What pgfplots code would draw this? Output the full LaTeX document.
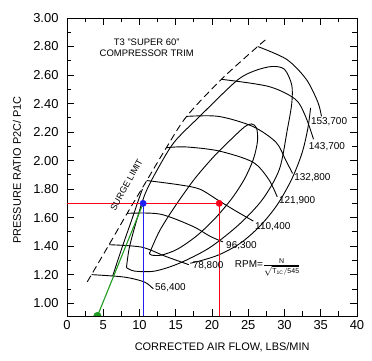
\documentclass[border=0pt]{standalone}
\usepackage{fontspec}
\setmainfont{Liberation Sans}
\setsansfont{Liberation Sans}
\usepackage{pgfplots}
\pgfplotsset{compat=1.18}
\definecolor{ptred}{rgb}{1.0,0.0,0.1}
\definecolor{ptblue}{rgb}{0.12,0.12,0.94}
\definecolor{ptgreen}{rgb}{0.12,0.6,0.12}
\pgfplotsset{ml/.style={draw=black, line width=0.9pt, smooth, mark=none}}
\begin{document}
\begin{tikzpicture}
\useasboundingbox (-67bp,-45bp) rectangle (305bp,316bp);
\begin{axis}[
  scale only axis, width=290bp, height=298bp,
  xmin=0, xmax=40, ymin=0.91, ymax=3.0,
  xtick={0,5,10,15,20,25,30,35,40}, minor x tick num=1,
  ytick={1,1.2,1.4,1.6,1.8,2,2.2,2.4,2.6,2.8,3}, minor y tick num=1,
  tick align=inside,
  major tick length=7bp, minor tick length=4.5bp,
  every tick/.style={black, line width=0.8pt},
  axis line style={line width=0.9pt},
  /pgf/number format/assume math mode=true,
  tick label style={font=\fontsize{13}{15}\selectfont},
  y tick label style={/pgf/number format/.cd, fixed, fixed zerofill, precision=2, /tikz/.cd, xshift=-5bp},
  x tick label style={yshift=-1bp},
  xlabel={CORRECTED AIR FLOW, LBS/MIN},
  ylabel={PRESSURE RATIO P2C/ P1C},
  every axis x label/.style={at={(axis description cs:0.535,0)}, anchor=center, yshift=-31bp, font=\fontsize{11}{13}\selectfont},
  every axis y label/.style={at={(axis description cs:0,0.49)}, anchor=center, xshift=-50bp, rotate=90, font=\fontsize{11}{13}\selectfont},
]
% surge limit (dashed)
\addplot[ml, dash pattern=on 7pt off 4pt] coordinates {(2.8,1.15) (5.8,1.41) (8.3,1.63) (11.0,1.86) (13.7,2.09) (16.5,2.31) (21.3,2.57) (26.3,2.80) (27.7,2.86)};
% speed lines
\addplot[ml] coordinates {(3.4,1.20) (7.9,1.183) (10.7,1.148) (11.9,1.10)};
\addplot[ml] coordinates {(5.8,1.41) (10.3,1.393) (13.5,1.33) (16.8,1.27)};
\addplot[ml] coordinates {(8.3,1.63) (12.8,1.625) (17.3,1.54) (19.7,1.47) (21.5,1.43)};
\addplot[ml] coordinates {(11.0,1.86) (15.5,1.83) (18.3,1.80) (20.9,1.72) (23.5,1.64) (25.7,1.576)};
\addplot[ml] coordinates {(13.7,2.09) (16.3,2.096) (20.9,2.068) (25.6,1.99) (27.8,1.87) (29.0,1.745)};
\addplot[ml] coordinates {(16.5,2.31) (20.9,2.31) (25.6,2.24) (28.8,2.13) (30.1,2.01) (31.1,1.91)};
\addplot[ml] coordinates {(21.3,2.57) (27.8,2.52) (31.5,2.43) (32.9,2.31) (34.0,2.15)};
\addplot[ml] coordinates {(26.3,2.80) (30.3,2.71) (33.0,2.57) (34.6,2.41) (35.1,2.31)};
% efficiency islands
\addplot[ml] coordinates {(11.38,1.35) (12.76,1.506) (14.83,1.674) (17.59,1.871) (20.34,2.033) (22.69,2.152) (24.48,2.236) (25.45,2.257) (26.14,2.229) (26.28,2.138) (25.72,2.012) (24.48,1.871) (22.69,1.731) (20.34,1.59) (17.86,1.471) (15.24,1.379) (13.03,1.337) (11.66,1.337) (11.38,1.35)};
\addplot[ml] coordinates {(8.2,1.25) (8.6,1.39) (9.6,1.58) (10.8,1.77) (12.5,1.94) (14.8,2.13) (18.3,2.31) (23.4,2.56) (25.9,2.63) (28.3,2.66) (30.0,2.64) (31.0,2.53) (31.0,2.40) (30.4,2.22) (29.3,1.94) (27.0,1.73) (23.8,1.555) (19.7,1.39) (15.5,1.28) (12.1,1.225) (9.3,1.225) (8.2,1.25)};
\addplot[ml] coordinates {(10.4,1.80) (9.7,1.70) (8.9,1.58) (8.0,1.45) (7.2,1.33) (6.3,1.19)};
\addplot[ml] coordinates {(33.6,2.37) (33.2,2.22) (32.4,2.05) (31.0,1.87) (29.0,1.69) (26.6,1.54) (23.9,1.42) (21.0,1.34) (18.6,1.30) (17.0,1.28)};
% operating points
\addplot[draw=ptred, solid, line width=1.5pt, mark=none] coordinates {(0,1.70) (21.0,1.70)};
\addplot[draw=ptred, solid, line width=1.5pt, mark=none] coordinates {(21.0,1.70) (21.0,0.91)};
\addplot[draw=ptblue, solid, line width=1.2pt, mark=none] coordinates {(10.5,1.70) (10.5,0.91)};
\addplot[draw=ptgreen, solid, line width=1.1pt, mark=none] coordinates {(4.2,0.91) (10.5,1.70)};
\addplot[only marks, mark=*, mark size=3.2bp, mark options={draw=ptred, fill=ptred}] coordinates {(21.0,1.70)};
\addplot[only marks, mark=*, mark size=3.2bp, mark options={draw=ptblue, fill=ptblue}] coordinates {(10.5,1.70)};
\addplot[only marks, mark=*, mark size=3.8bp, mark options={draw=ptgreen, fill=ptgreen}, clip mode=individual] coordinates {(4.2,0.91)};
% texts
\node[align=center, font=\fontsize{9.5}{11}\selectfont] at (axis cs:11.0,2.79) {T3 "SUPER 60"\\COMPRESSOR TRIM};
\node[rotate=61, font=\fontsize{9}{10}\selectfont, inner sep=0.5pt] at (axis cs:8.2,1.83) {SURGE LIMIT};
\begin{scope}[every node/.style={anchor=west, font=\fontsize{10}{12}\selectfont, inner sep=1pt}]
\node at (axis cs:12.0,1.11) {56,400};
\node at (axis cs:17.2,1.26) {78,800};
\node at (axis cs:21.8,1.40) {96,300};
\node at (axis cs:25.8,1.54) {110,400};
\node at (axis cs:29.1,1.72) {121,900};
\node at (axis cs:31.2,1.88) {132,800};
\node at (axis cs:33.2,2.10) {143,700};
\node at (axis cs:33.5,2.27) {153,700};
\node at (axis cs:23.0,1.25) {RPM=$\frac{\mathsf{N}}{\sqrt{\mathsf{T_{1C}/545}}}$};
\end{scope}
\end{axis}
\end{tikzpicture}
\end{document}
